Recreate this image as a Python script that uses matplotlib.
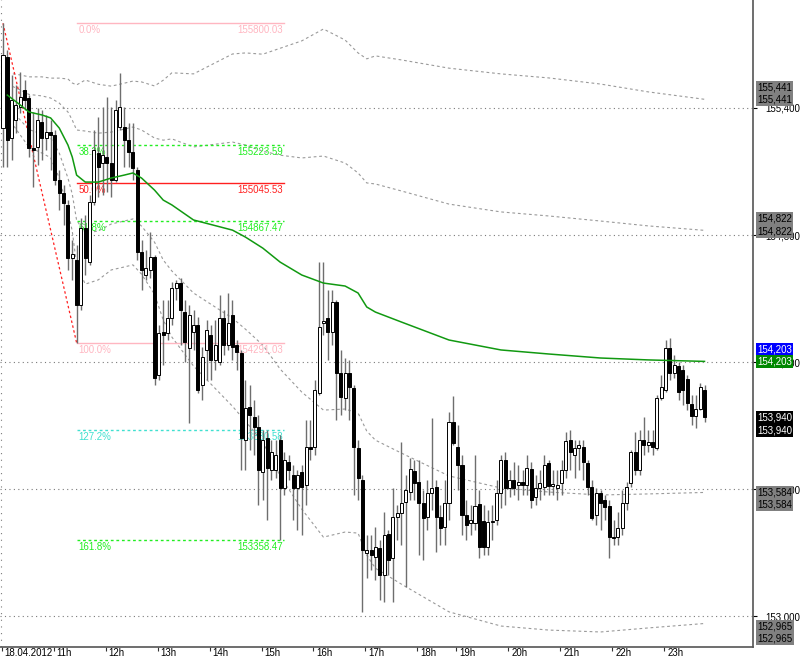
import matplotlib
matplotlib.use("Agg")
import matplotlib.pyplot as plt
import matplotlib.transforms as mtransforms
import numpy as np

plt.rcParams['font.family'] = ['Liberation Sans', 'DejaVu Sans']

# ---------------- data ----------------
date_label = "18.04.2012"
hour_labels = ["11h", "12h", "13h", "14h", "15h", "16h", "17h", "18h", "19h", "20h", "21h", "22h", "23h"]
hour_bars = [12, 24, 36, 48, 60, 72, 84, 96, 105, 117, 129, 141, 153]

opens = [155305, 155641, 155258, 155343, 155405, 155485, 155447, 155211, 155216, 155334,
         155258, 155286, 155272, 155060, 154998, 154942, 154691, 154682, 154469, 154833,
         154672, 154956, 155187, 155140, 155168, 155140, 155060, 155310, 155310, 155249,
         155192, 155107, 154720, 154611, 154635, 154696, 154139, 154342, 154337, 154408,
         154550, 154573, 154436, 154266, 154342, 154375, 154091, 154257, 154327, 154210,
         154200, 154408, 154280, 154422, 154280, 154242, 153831, 153987, 153940, 153893,
         153680, 153841, 153690, 153690, 153831, 153605, 153727, 153666, 153605, 153680,
         153619, 153798, 153798, 154053, 154384, 154408, 154342, 154483, 154148, 154030,
         154148, 154077, 153794, 153642, 153298, 153312, 153279, 153321, 153194, 153387,
         153274, 153468, 153487, 153539, 153586, 153685, 153633, 153534, 153468, 153581,
         153609, 153468, 153420, 153534, 153917, 153798, 153713, 153477, 153439, 153439,
         153529, 153449, 153326, 153444, 153454, 153581, 153737, 153605, 153642, 153619,
         153633, 153619, 153694, 153562, 153605, 153609, 153723, 153614, 153605, 153628,
         153690, 153831, 153761, 153794, 153798, 153723, 153609, 153477, 153581, 153548,
         153520, 153373, 153373, 153416, 153534, 153628, 153775, 153690, 153831, 153808,
         153822, 153794, 154030, 154068, 154266, 154148, 154181, 154162, 154120, 154002,
         153945, 153978, 154068]
closes = [155650, 155249, 155438, 155414, 155452, 155438, 155211, 155201, 155343, 155258,
          155286, 155272, 155060, 154998, 154951, 154691, 154710, 154469, 154833, 154691,
          154956, 155201, 155121, 155178, 155140, 155060, 155390, 155405, 155249, 155192,
          155116, 154720, 154635, 154644, 154696, 154124, 154337, 154327, 154408, 154550,
          154573, 154446, 154294, 154422, 154375, 154068, 154224, 154351, 154210, 154280,
          154408, 154280, 154384, 154271, 154247, 153841, 153983, 153950, 153893, 153690,
          153831, 153699, 153775, 153761, 153605, 153737, 153690, 153605, 153666, 153609,
          153798, 153789, 154068, 154365, 154394, 154342, 154483, 154148, 154035, 154148,
          154082, 153798, 153652, 153312, 153312, 153288, 153326, 153194, 153383, 153265,
          153468, 153487, 153534, 153595, 153694, 153628, 153534, 153463, 153581, 153605,
          153468, 153416, 153534, 153917, 153817, 153713, 153477, 153430, 153454, 153520,
          153326, 153326, 153444, 153449, 153581, 153737, 153605, 153642, 153605, 153633,
          153619, 153699, 153548, 153605, 153628, 153713, 153614, 153624, 153619, 153690,
          153827, 153775, 153794, 153808, 153727, 153609, 153463, 153581, 153534, 153515,
          153373, 153368, 153416, 153534, 153609, 153775, 153690, 153831, 153808, 153822,
          153798, 154030, 154082, 154266, 154148, 154186, 154058, 154068, 154006, 153945,
          153978, 154082, 153940]
highs = [155801, 155674, 155556, 155508, 155570, 155532, 155461, 155381, 155400, 155390,
         155367, 155343, 155296, 155107, 155036, 154965, 154776, 154753, 154880, 154894,
         154989, 155296, 155357, 155405, 155452, 155405, 155438, 155565, 155405, 155329,
         155329, 155121, 154776, 154729, 154814, 154705, 154375, 154493, 154493, 154578,
         154587, 154597, 154493, 154469, 154446, 154413, 154271, 154398, 154375, 154398,
         154516, 154446, 154526, 154493, 154304, 154257, 154115, 154091, 154021, 153950,
         153879, 153879, 153831, 153831, 153855, 153775, 153761, 153713, 153690, 153713,
         153926, 153926, 154115, 154672, 154672, 154540, 154540, 154493, 154257, 154219,
         154210, 154091, 153831, 153666, 153383, 153383, 153420, 153359, 153491, 153406,
         153605, 153524, 153822, 153666, 153746, 153737, 153737, 153595, 153642, 153935,
         153642, 153524, 153642, 153964, 154040, 153902, 153761, 153548, 153524, 153761,
         153595, 153524, 153501, 153524, 153642, 153761, 153775, 153690, 153727, 153713,
         153690, 153761, 153727, 153666, 153690, 153761, 153737, 153690, 153690, 153737,
         153869, 153879, 153831, 153831, 153831, 153737, 153642, 153605, 153595, 153572,
         153548, 153454, 153491, 153595, 153633, 153784, 153869, 153879, 153940, 153879,
         153879, 154044, 154139, 154304, 154313, 154233, 154200, 154186, 154139, 154044,
         154044, 154101, 154091]
lows = [155121, 155121, 155154, 155282, 155376, 155390, 155168, 155027, 155131, 155154,
        155201, 155107, 155036, 154918, 154847, 154635, 154587, 154291, 154446, 154611,
        154658, 154942, 154979, 154989, 155003, 154979, 155050, 155296, 155121, 155121,
        155060, 154682, 154540, 154587, 154597, 154091, 154115, 154186, 154304, 154375,
        154493, 154280, 154200, 153912, 154257, 154053, 154021, 154115, 154115, 154162,
        154186, 154233, 154257, 154210, 154162, 153690, 153690, 153784, 153761, 153524,
        153548, 153454, 153642, 153652, 153359, 153572, 153642, 153454, 153406, 153383,
        153524, 153737, 153761, 154044, 154327, 154210, 154280, 153926, 153950, 153972,
        153926, 153572, 153548, 153019, 153180, 153217, 153170, 153076, 153066, 153194,
        153066, 153359, 153335, 153137, 153548, 153548, 153288, 153265, 153406, 153501,
        153302, 153335, 153335, 153454, 153808, 153595, 153383, 153359, 153383, 153406,
        153274, 153288, 153288, 153359, 153430, 153510, 153524, 153562, 153572, 153548,
        153572, 153572, 153510, 153524, 153548, 153572, 153572, 153572, 153548, 153572,
        153652, 153690, 153652, 153690, 153642, 153572, 153454, 153430, 153406, 153454,
        153274, 153335, 153335, 153383, 153501, 153609, 153666, 153666, 153761, 153775,
        153761, 153784, 154021, 154058, 154115, 154124, 154021, 153997, 153972, 153902,
        153888, 153972, 153917]

# moving average (green) and band deviation, read at selected bars
ma_idx = [1, 4, 6, 9, 11, 13, 15, 16, 17, 19, 22, 25, 28, 30, 32, 35, 37, 39, 44, 53,
          56, 60, 64, 69, 74, 79, 82, 84, 86, 92, 103, 115, 126, 138, 149, 162]
ma_val = [155461, 155414, 155381, 155367, 155353, 155305, 155225, 155168, 155083, 155050,
          155050, 155069, 155083, 155093, 155069, 155012, 154965, 154942, 154871, 154823,
          154790, 154738, 154672, 154611, 154573, 154559, 154526, 154460, 154436, 154389,
          154304, 154257, 154238, 154219, 154210, 154203]
dev_val = [52, 71, 83, 90, 94, 118, 156, 175, 213, 241, 231, 217, 217, 217, 227, 246,
           283, 312, 345, 416, 435, 458, 505, 553, 600, 581, 567, 586, 605, 619, 642, 652,
           652, 647, 633, 619]
band_mult = [2, 1, -1, -2]

# Fibonacci retracement
fib_high = 155800.03
fib_low = 154291.03
fib_high_bar = 0
fib_low_bar = 17
fib_end_bar = 65
fib_ratios = [0.0, 0.382, 0.5, 0.618, 1.0, 1.272, 1.618]
fib_colors = ['#ffb6c1', '#22ee22', '#ff2020', '#22ee22', '#ffb6c1', '#40e0d0', '#22ee22']
fib_dashed = [False, True, False, True, False, True, True]

grid_levels = [153000, 153600, 154200, 154800, 155400]

# ---------------- figure ----------------
W, H = 800, 660
fig = plt.figure(figsize=(W / 100, H / 100), dpi=100)
ax = fig.add_axes([0, 13 / H, 753 / W, 647 / H])
ax.set_xlim(-0.69, 173.2)
ax.set_ylim(152854, 155910)
ax.set_facecolor('white')

for lv in grid_levels:
    ax.axhline(lv, color='#7a7a7a', lw=0.8, ls=(0, (1, 3)), zorder=1)
ax.axvline(-0.35, color='#7a7a7a', lw=0.8, ls=(0, (1, 5)), zorder=1)

# bands
ma_x = np.array(ma_idx)
ma_arr = np.array(ma_val, dtype=float)
dev_arr = np.array(dev_val, dtype=float)
for m in band_mult:
    ax.plot(ma_x, ma_arr + m * dev_arr, color='#9a9a9a', lw=0.8, ls=(0, (2.5, 2.5)), zorder=1.5)

# fib
fib_range = fib_high - fib_low
ax.plot([fib_high_bar, fib_low_bar], [fib_high, fib_low], color='#ff2020', lw=0.9,
        ls=(0, (2, 2)), zorder=2)
for r, c, d in zip(fib_ratios, fib_colors, fib_dashed):
    lvl = fib_high - r * fib_range
    ax.plot([fib_low_bar + 0.2, fib_end_bar], [lvl, lvl], color=c, lw=1.0,
            ls=(0, (2, 2)) if d else '-', zorder=1.8)
    ax.annotate(f"{r * 100:.1f}%", xy=(fib_low_bar + 0.5, lvl), xytext=(0, -2),
                textcoords='offset pixels', ha='left', va='top', fontsize=7, color=c, zorder=1.9)
    ax.annotate(f"{lvl:.2f}", xy=(fib_end_bar - 0.4, lvl), xytext=(0, -2),
                textcoords='offset pixels', ha='right', va='top', fontsize=7, color=c, zorder=1.9)

# candles
o = np.array(opens, dtype=float)
c = np.array(closes, dtype=float)
h = np.array(highs, dtype=float)
l = np.array(lows, dtype=float)
x = np.arange(len(o))
ax.vlines(x, l, h, color='#6e6e6e', lw=1.0, zorder=3)
bull = c >= o
bodies_bottom = np.minimum(o, c)
bodies_h = np.maximum(np.abs(c - o), 4)
ax.bar(x[bull], bodies_h[bull], bottom=bodies_bottom[bull], width=0.7,
       color='white', edgecolor='black', lw=0.7, zorder=4)
ax.bar(x[~bull], bodies_h[~bull], bottom=bodies_bottom[~bull], width=0.7,
       color='black', edgecolor='black', lw=0.7, zorder=4)

# MA line
ax.plot(ma_x, ma_arr, color='#119911', lw=1.1, zorder=5)

# axes styling
for s in ['top', 'left']:
    ax.spines[s].set_visible(False)
for s in ['bottom', 'right']:
    ax.spines[s].set_color('#555555')
    ax.spines[s].set_linewidth(1.2)

ax.yaxis.tick_right()
ax.set_yticks(grid_levels)
ax.set_yticklabels([f"{v:,}" for v in grid_levels])
ax.tick_params(axis='y', direction='out', length=3, width=0.8, colors='black',
               labelsize=7, pad=6)

xt = [-0.3] + [b - 0.3 for b in hour_bars]
xl = [date_label] + hour_labels
ax.set_xticks(xt)
ax.set_xticklabels([''] * len(xt))
ax.tick_params(axis='x', direction='out', length=3, width=0.8, colors='#333333')
trans_x = mtransforms.blended_transform_factory(ax.transData, ax.transAxes)
for xv, lab in zip(xt, xl):
    ax.annotate(lab, xy=(xv, 0), xycoords=trans_x, xytext=(3, -1),
                textcoords='offset pixels', ha='left', va='top', fontsize=7,
                color='black', annotation_clip=False)

# right-side value boxes
ma_end = ma_val[-1]
dev_end = dev_val[-1]
last_close = closes[-1]
boxes = [
    (ma_end + 2 * dev_end, [12, 0], ['#808080', '#808080'], 'black'),
    (ma_end + dev_end, [12, -1], ['#808080', '#808080'], 'black'),
    (ma_end, [12, 0], ['#0000ff', '#008800'], 'white'),
    (last_close, [0, -13], ['#000000', '#000000'], 'white'),
    (ma_end - dev_end, [0, -12], ['#808080', '#808080'], 'black'),
    (ma_end - 2 * dev_end, [-3, -15], ['#808080', '#808080'], 'black'),
]
trans_r = mtransforms.blended_transform_factory(ax.transAxes, ax.transData)
for val, dys, fcs, tc in boxes:
    for dy, fc in zip(dys, fcs):
        ax.annotate(f"{val:,.0f}", xy=(1, val), xycoords=trans_r, xytext=(4, dy),
                    textcoords='offset pixels', ha='left', va='center', fontsize=7,
                    color=tc, annotation_clip=False, zorder=10,
                    bbox=dict(boxstyle='square,pad=0.15', fc=fc, ec='none'))

fig.savefig('out.png', dpi=100, facecolor='white')
